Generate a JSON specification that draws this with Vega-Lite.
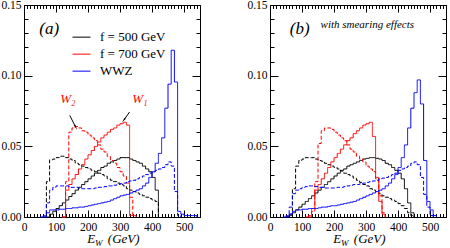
{
 "$schema": "https://vega.github.io/schema/vega-lite/v6.json",
 "autosize": {"type": "pad"},
 "padding": {"left": 0, "top": -2, "right": 0, "bottom": 0},
 "bounds": "flush",
 "spacing": 70,
 "config": {
  "view": {"stroke": "#000000", "strokeWidth": 1},
  "axis": {"tickColor": "#000000", "tickWidth": 1, "domain": false, "grid": false, "labelFont": "Liberation Serif", "labelFontSize": 11.5, "labelColor": "#000000", "labelOverlap": false, "labelFlush": false}
 },
 "datasets": {
  "hist": [
   {"p": "a", "m": "f = 500 GeV", "w": "W1", "E": [70,80,90,100,110,120,130,140,150,160,170,180,190,200,210,220,230,240,250,260,270,280,290,300,310,320,330,340,350,360,370,380,390,400,410,420], "v": [0,0.002,0.004,0.006,0.008,0.010,0.012,0.0145,0.0165,0.019,0.021,0.023,0.025,0.027,0.029,0.031,0.033,0.035,0.036,0.038,0.039,0.040,0.041,0.042,0.042,0.042,0.041,0.040,0.039,0.038,0.036,0.034,0.032,0.028,0.019,0]},
   {"p": "a", "m": "f = 500 GeV", "w": "W2", "E": [60,70,80,90,100,110,120,130,140,150,160,170,180,190,200,210,220,230,240,250,260,270,280,290,300,310,320,330,340,350,360,370,380,390,400,410,420], "v": [0,0.025,0.0405,0.041,0.042,0.043,0.043,0.042,0.041,0.040,0.038,0.037,0.036,0.035,0.034,0.033,0.032,0.031,0.030,0.029,0.027,0.026,0.025,0.024,0.023,0.022,0.020,0.019,0.018,0.017,0.016,0.015,0.014,0.013,0.012,0.011,0]},
   {"p": "a", "m": "f = 700 GeV", "w": "W1", "E": [120,130,140,150,160,170,180,190,200,210,220,230,240,250,260,270,280,290,300,310,320,330,340,350], "v": [0,0.019,0.023,0.027,0.030,0.034,0.037,0.041,0.044,0.047,0.050,0.053,0.056,0.058,0.060,0.062,0.063,0.065,0.066,0.067,0.065,0.001,0.001,0]},
   {"p": "a", "m": "f = 700 GeV", "w": "W2", "E": [120,130,140,150,160,170,180,190,200,210,220,230,240,250,260,270,280,290,300,310,320,330,340], "v": [0,0.025,0.060,0.063,0.064,0.063,0.061,0.060,0.058,0.056,0.054,0.051,0.048,0.046,0.043,0.040,0.038,0.035,0.032,0.029,0.024,0.014,0]},
   {"p": "a", "m": "WWZ", "w": "W1", "E": [50,60,70,80,90,100,110,120,130,140,150,160,170,180,190,200,210,220,230,240,250,260,270,280,290,300,310,320,330,340,350,360,370,380,390,400,410,420,430,440,450,460,470,480,490,500,510,520,530,540], "v": [0,0.001,0.003,0.005,0.005,0.005,0.0055,0.0055,0.006,0.006,0.0065,0.0065,0.007,0.007,0.0075,0.008,0.0085,0.009,0.0095,0.010,0.0105,0.011,0.012,0.013,0.014,0.015,0.0155,0.016,0.017,0.018,0.019,0.020,0.022,0.024,0.028,0.032,0.038,0.045,0.056,0.077,0.094,0.118,0.0955,0.004,0.002,0.001,0.001,0.001,0.001,0]},
   {"p": "a", "m": "WWZ", "w": "W2", "E": [60,70,80,90,100,110,120,130,140,150,160,170,180,190,200,210,220,230,240,250,260,270,280,290,300,310,320,330,340,350,360,370,380,390,400,410,420,430,440,450,460,470,480,490], "v": [0,0.010,0.019,0.021,0.022,0.022,0.022,0.022,0.021,0.021,0.021,0.0205,0.020,0.020,0.020,0.020,0.0205,0.021,0.021,0.0215,0.022,0.022,0.0225,0.023,0.0235,0.024,0.025,0.0255,0.026,0.027,0.028,0.029,0.030,0.031,0.032,0.033,0.034,0.035,0.037,0.039,0.036,0.018,0.001,0]},
   {"p": "b", "m": "f = 500 GeV", "w": "W1", "E": [50,60,70,80,90,100,110,120,130,140,150,160,170,180,190,200,210,220,230,240,250,260,270,280,290,300,310,320,330,340,350,360,370,380,390,400,410,420,430,440,450], "v": [0,0.001,0.003,0.005,0.007,0.009,0.011,0.013,0.015,0.017,0.019,0.021,0.023,0.025,0.027,0.029,0.031,0.033,0.034,0.036,0.037,0.038,0.039,0.040,0.041,0.0415,0.042,0.042,0.0415,0.041,0.040,0.038,0.037,0.035,0.033,0.031,0.027,0.020,0.010,0.003,0]},
   {"p": "b", "m": "f = 500 GeV", "w": "W2", "E": [50,60,70,80,90,100,110,120,130,140,150,160,170,180,190,200,210,220,230,240,250,260,270,280,290,300,310,320,330,340,350,360,370,380,390,400,410,420,430,440,450], "v": [0,0.002,0.020,0.036,0.040,0.041,0.042,0.042,0.042,0.041,0.040,0.0395,0.038,0.037,0.036,0.035,0.034,0.0325,0.031,0.030,0.029,0.0275,0.026,0.0245,0.023,0.022,0.020,0.019,0.018,0.0165,0.015,0.014,0.013,0.012,0.011,0.0095,0.008,0.006,0.003,0.001,0]},
   {"p": "b", "m": "f = 700 GeV", "w": "W1", "E": [110,120,130,140,150,160,170,180,190,200,210,220,230,240,250,260,270,280,290,300,310,320,330,340,350,360], "v": [0,0.001,0.006,0.019,0.023,0.027,0.031,0.035,0.039,0.042,0.045,0.048,0.051,0.054,0.056,0.059,0.061,0.063,0.065,0.066,0.067,0.057,0.028,0.011,0.002,0]},
   {"p": "b", "m": "f = 700 GeV", "w": "W2", "E": [120,130,140,150,160,170,180,190,200,210,220,230,240,250,260,270,280,290,300,310,320,330,340,350,360], "v": [0,0.004,0.025,0.052,0.061,0.063,0.063,0.062,0.060,0.058,0.056,0.054,0.051,0.048,0.046,0.043,0.041,0.039,0.036,0.034,0.032,0.027,0.015,0.003,0]},
   {"p": "b", "m": "WWZ", "w": "W1", "E": [40,50,60,70,80,90,100,110,120,130,140,150,160,170,180,190,200,210,220,230,240,250,260,270,280,290,300,310,320,330,340,350,360,370,380,390,400,410,420,430,440,450,460,470,480,490,500,510,520], "v": [0,0.001,0.002,0.004,0.005,0.005,0.0055,0.0055,0.006,0.006,0.006,0.0065,0.007,0.007,0.0075,0.008,0.008,0.0085,0.009,0.0095,0.010,0.0105,0.011,0.012,0.013,0.014,0.015,0.016,0.017,0.018,0.019,0.020,0.022,0.024,0.027,0.030,0.035,0.042,0.051,0.063,0.077,0.088,0.097,0.080,0.040,0.011,0.005,0.001,0]},
   {"p": "b", "m": "WWZ", "w": "W2", "E": [50,60,70,80,90,100,110,120,130,140,150,160,170,180,190,200,210,220,230,240,250,260,270,280,290,300,310,320,330,340,350,360,370,380,390,400,410,420,430,440,450,460,470,480,490,500,510], "v": [0,0.007,0.0165,0.019,0.020,0.021,0.0215,0.022,0.022,0.0215,0.021,0.021,0.0205,0.0205,0.0205,0.0205,0.021,0.021,0.0215,0.022,0.0225,0.023,0.023,0.0235,0.024,0.0245,0.025,0.0255,0.026,0.027,0.0275,0.028,0.029,0.030,0.031,0.033,0.034,0.035,0.036,0.038,0.039,0.037,0.028,0.016,0.007,0.001,0]}
  ],
  "ann": [
   {"p": "a", "k": "lab", "E": 79, "v": 0.133, "t": "(a)"},
   {"p": "b", "k": "lab", "E": 93, "v": 0.133, "t": "(b)"},
   {"p": "b", "k": "note", "E": 158, "v": 0.1355, "t": "with smearing effects"},
   {"p": "a", "k": "w", "E": 137, "v": 0.0835, "t": "W₂"},
   {"p": "a", "k": "w", "E": 362, "v": 0.0835, "t": "W₁"},
   {"p": "a", "k": "t", "E": 198, "v": -0.0186, "t": "E"},
   {"p": "a", "k": "t", "E": 262, "v": -0.0186, "t": "(GeV)"},
   {"p": "a", "k": "s", "E": 222, "v": -0.0208, "t": "W"},
   {"p": "b", "k": "t", "E": 198, "v": -0.0186, "t": "E"},
   {"p": "b", "k": "t", "E": 262, "v": -0.0186, "t": "(GeV)"},
   {"p": "b", "k": "s", "E": 222, "v": -0.0208, "t": "W"}
  ],
  "arrows": [
   {"id": "w2", "E": 143, "v": 0.0719, "E2": 161, "v2": 0.0638},
   {"id": "w1", "E": 330, "v": 0.0743, "E2": 313, "v2": 0.0689}
  ]
 },
 "resolve": {"scale": {"color": "independent", "strokeDash": "independent"}},
 "hconcat": [
  {
   "width": 176, "height": 212,
   "resolve": {"axis": {"x": "independent", "y": "independent"}},
   "layer": [
    {
     "data": {"name": "hist"},
     "transform": [{"filter": "datum.p === 'a'"}, {"flatten": ["E", "v"]}],
     "mark": {"type": "line", "interpolate": "step-after", "strokeWidth": 1},
     "encoding": {
      "x": {"field": "E", "type": "quantitative", "scale": {"domain": [0, 550], "nice": false, "zero": false},
            "axis": {"orient": "bottom", "title": null, "values": [0,10,20,30,40,50,60,70,80,90,100,110,120,130,140,150,160,170,180,190,200,210,220,230,240,250,260,270,280,290,300,310,320,330,340,350,360,370,380,390,400,410,420,430,440,450,460,470,480,490,500,510,520,530,540,550], "format": "d", "labelExpr": "datum.value % 100 === 0 ? datum.label : ''", "tickSize": {"condition": {"test": "datum.value % 100 !== 0", "value": -3.5}, "value": -7}, "labelPadding": 11}},
      "y": {"field": "v", "type": "quantitative", "scale": {"domain": [0, 0.15], "nice": false},
            "axis": {"orient": "left", "title": null, "values": [0,0.01,0.02,0.03,0.04,0.05,0.06,0.07,0.08,0.09,0.1,0.11,0.12,0.13,0.14,0.15], "format": ".2f", "labelExpr": "abs(datum.value*20 - round(datum.value*20)) < 0.001 ? datum.label : ''", "tickSize": {"condition": {"test": "abs(datum.value*20 - round(datum.value*20)) >= 0.001", "value": -4}, "value": -8}, "labelPadding": 11}},
      "color": {"field": "m", "type": "nominal", "scale": {"domain": ["f = 500 GeV", "f = 700 GeV", "WWZ"], "range": ["#000000", "#ff0000", "#0000ff"]},
                "legend": {"orient": "none", "legendX": 48, "legendY": 24, "title": null, "symbolType": "stroke", "symbolSize": 324, "symbolStrokeWidth": 1, "labelFont": "Liberation Serif", "labelFontSize": 13, "labelColor": "#000000", "labelOffset": 9, "rowPadding": 0, "clipHeight": 16.3, "padding": 0}},
      "strokeDash": {"field": "w", "type": "nominal", "scale": {"domain": ["W1", "W2"], "range": [[1, 0], [4, 2]]}, "legend": null}
     }
    },
    {
     "data": {"name": "ann"},
     "transform": [{"filter": "datum.p === 'a' && datum.k === 'lab'"}],
     "mark": {"type": "text", "font": "Liberation Serif", "fontStyle": "italic", "fontSize": 17, "align": "center", "baseline": "middle", "color": "#000000"},
     "encoding": {
      "x": {"field": "E", "type": "quantitative", "scale": {"domain": [0, 550], "nice": false, "zero": false},
            "axis": {"orient": "top", "title": null, "labels": false, "values": [0,10,20,30,40,50,60,70,80,90,100,110,120,130,140,150,160,170,180,190,200,210,220,230,240,250,260,270,280,290,300,310,320,330,340,350,360,370,380,390,400,410,420,430,440,450,460,470,480,490,500,510,520,530,540,550], "tickSize": {"condition": {"test": "datum.value % 100 !== 0", "value": -3.5}, "value": -7}}},
      "y": {"field": "v", "type": "quantitative", "scale": {"domain": [0, 0.15], "nice": false},
            "axis": {"orient": "right", "title": null, "labels": false, "values": [0,0.01,0.02,0.03,0.04,0.05,0.06,0.07,0.08,0.09,0.1,0.11,0.12,0.13,0.14,0.15], "tickSize": {"condition": {"test": "abs(datum.value*20 - round(datum.value*20)) >= 0.001", "value": -4}, "value": -8}}},
      "text": {"field": "t"}
     }
    },
    {
     "data": {"name": "ann"},
     "transform": [{"filter": "datum.p === 'a' && datum.k === 'w'"}],
     "mark": {"type": "text", "font": "Liberation Serif", "fontStyle": "italic", "fontSize": 13, "align": "center", "baseline": "middle", "color": "#ff0000"},
     "encoding": {
      "x": {"field": "E", "type": "quantitative", "axis": null},
      "y": {"field": "v", "type": "quantitative", "axis": null},
      "text": {"field": "t"}
     }
    },
    {
     "data": {"name": "ann"},
     "transform": [{"filter": "datum.p === 'a' && datum.k === 't'"}],
     "mark": {"type": "text", "font": "Liberation Serif", "fontStyle": "italic", "fontSize": 13, "align": "left", "baseline": "alphabetic", "color": "#000000"},
     "encoding": {
      "x": {"field": "E", "type": "quantitative", "axis": null},
      "y": {"field": "v", "type": "quantitative", "axis": null},
      "text": {"field": "t"}
     }
    },
    {
     "data": {"name": "ann"},
     "transform": [{"filter": "datum.p === 'a' && datum.k === 's'"}],
     "mark": {"type": "text", "font": "Liberation Serif", "fontStyle": "italic", "fontSize": 9, "align": "left", "baseline": "alphabetic", "color": "#000000"},
     "encoding": {
      "x": {"field": "E", "type": "quantitative", "axis": null},
      "y": {"field": "v", "type": "quantitative", "axis": null},
      "text": {"field": "t"}
     }
    },
    {
     "data": {"name": "arrows"},
     "mark": {"type": "rule", "color": "#000000", "strokeWidth": 1},
     "encoding": {
      "x": {"field": "E", "type": "quantitative", "axis": null},
      "y": {"field": "v", "type": "quantitative", "axis": null},
      "x2": {"field": "E2"},
      "y2": {"field": "v2"}
     }
    },
    {
     "data": {"name": "arrows"},
     "transform": [{"filter": "datum.id === 'w2'"}],
     "mark": {"type": "point", "shape": "wedge", "filled": true, "color": "#000000", "size": 40, "angle": 153, "opacity": 1},
     "encoding": {
      "x": {"field": "E2", "type": "quantitative", "axis": null},
      "y": {"field": "v2", "type": "quantitative", "axis": null}
     }
    },
    {
     "data": {"name": "arrows"},
     "transform": [{"filter": "datum.id === 'w1'"}],
     "mark": {"type": "point", "shape": "wedge", "filled": true, "color": "#000000", "size": 40, "angle": 217, "opacity": 1},
     "encoding": {
      "x": {"field": "E2", "type": "quantitative", "axis": null},
      "y": {"field": "v2", "type": "quantitative", "axis": null}
     }
    }
   ]
  },
  {
   "width": 176, "height": 212,
   "resolve": {"axis": {"x": "independent", "y": "independent"}},
   "layer": [
    {
     "data": {"name": "hist"},
     "transform": [{"filter": "datum.p === 'b'"}, {"flatten": ["E", "v"]}],
     "mark": {"type": "line", "interpolate": "step-after", "strokeWidth": 1},
     "encoding": {
      "x": {"field": "E", "type": "quantitative", "scale": {"domain": [0, 550], "nice": false, "zero": false},
            "axis": {"orient": "bottom", "title": null, "values": [0,10,20,30,40,50,60,70,80,90,100,110,120,130,140,150,160,170,180,190,200,210,220,230,240,250,260,270,280,290,300,310,320,330,340,350,360,370,380,390,400,410,420,430,440,450,460,470,480,490,500,510,520,530,540,550], "format": "d", "labelExpr": "datum.value % 100 === 0 ? datum.label : ''", "tickSize": {"condition": {"test": "datum.value % 100 !== 0", "value": -3.5}, "value": -7}, "labelPadding": 11}},
      "y": {"field": "v", "type": "quantitative", "scale": {"domain": [0, 0.15], "nice": false},
            "axis": {"orient": "left", "title": null, "values": [0,0.01,0.02,0.03,0.04,0.05,0.06,0.07,0.08,0.09,0.1,0.11,0.12,0.13,0.14,0.15], "format": ".2f", "labelExpr": "abs(datum.value*20 - round(datum.value*20)) < 0.001 ? datum.label : ''", "tickSize": {"condition": {"test": "abs(datum.value*20 - round(datum.value*20)) >= 0.001", "value": -4}, "value": -8}, "labelPadding": 11}},
      "color": {"field": "m", "type": "nominal", "scale": {"domain": ["f = 500 GeV", "f = 700 GeV", "WWZ"], "range": ["#000000", "#ff0000", "#0000ff"]}, "legend": null},
      "strokeDash": {"field": "w", "type": "nominal", "scale": {"domain": ["W1", "W2"], "range": [[1, 0], [4, 2]]}, "legend": null}
     }
    },
    {
     "data": {"name": "ann"},
     "transform": [{"filter": "datum.p === 'b' && datum.k === 'lab'"}],
     "mark": {"type": "text", "font": "Liberation Serif", "fontStyle": "italic", "fontSize": 17, "align": "center", "baseline": "middle", "color": "#000000"},
     "encoding": {
      "x": {"field": "E", "type": "quantitative", "scale": {"domain": [0, 550], "nice": false, "zero": false},
            "axis": {"orient": "top", "title": null, "labels": false, "values": [0,10,20,30,40,50,60,70,80,90,100,110,120,130,140,150,160,170,180,190,200,210,220,230,240,250,260,270,280,290,300,310,320,330,340,350,360,370,380,390,400,410,420,430,440,450,460,470,480,490,500,510,520,530,540,550], "tickSize": {"condition": {"test": "datum.value % 100 !== 0", "value": -3.5}, "value": -7}}},
      "y": {"field": "v", "type": "quantitative", "scale": {"domain": [0, 0.15], "nice": false},
            "axis": {"orient": "right", "title": null, "labels": false, "values": [0,0.01,0.02,0.03,0.04,0.05,0.06,0.07,0.08,0.09,0.1,0.11,0.12,0.13,0.14,0.15], "tickSize": {"condition": {"test": "abs(datum.value*20 - round(datum.value*20)) >= 0.001", "value": -4}, "value": -8}}},
      "text": {"field": "t"}
     }
    },
    {
     "data": {"name": "ann"},
     "transform": [{"filter": "datum.p === 'b' && datum.k === 'note'"}],
     "mark": {"type": "text", "font": "Liberation Serif", "fontStyle": "italic", "fontSize": 11, "align": "left", "baseline": "middle", "color": "#000000"},
     "encoding": {
      "x": {"field": "E", "type": "quantitative", "axis": null},
      "y": {"field": "v", "type": "quantitative", "axis": null},
      "text": {"field": "t"}
     }
    },
    {
     "data": {"name": "ann"},
     "transform": [{"filter": "datum.p === 'b' && datum.k === 't'"}],
     "mark": {"type": "text", "font": "Liberation Serif", "fontStyle": "italic", "fontSize": 13, "align": "left", "baseline": "alphabetic", "color": "#000000"},
     "encoding": {
      "x": {"field": "E", "type": "quantitative", "axis": null},
      "y": {"field": "v", "type": "quantitative", "axis": null},
      "text": {"field": "t"}
     }
    },
    {
     "data": {"name": "ann"},
     "transform": [{"filter": "datum.p === 'b' && datum.k === 's'"}],
     "mark": {"type": "text", "font": "Liberation Serif", "fontStyle": "italic", "fontSize": 9, "align": "left", "baseline": "alphabetic", "color": "#000000"},
     "encoding": {
      "x": {"field": "E", "type": "quantitative", "axis": null},
      "y": {"field": "v", "type": "quantitative", "axis": null},
      "text": {"field": "t"}
     }
    }
   ]
  }
 ]
}
